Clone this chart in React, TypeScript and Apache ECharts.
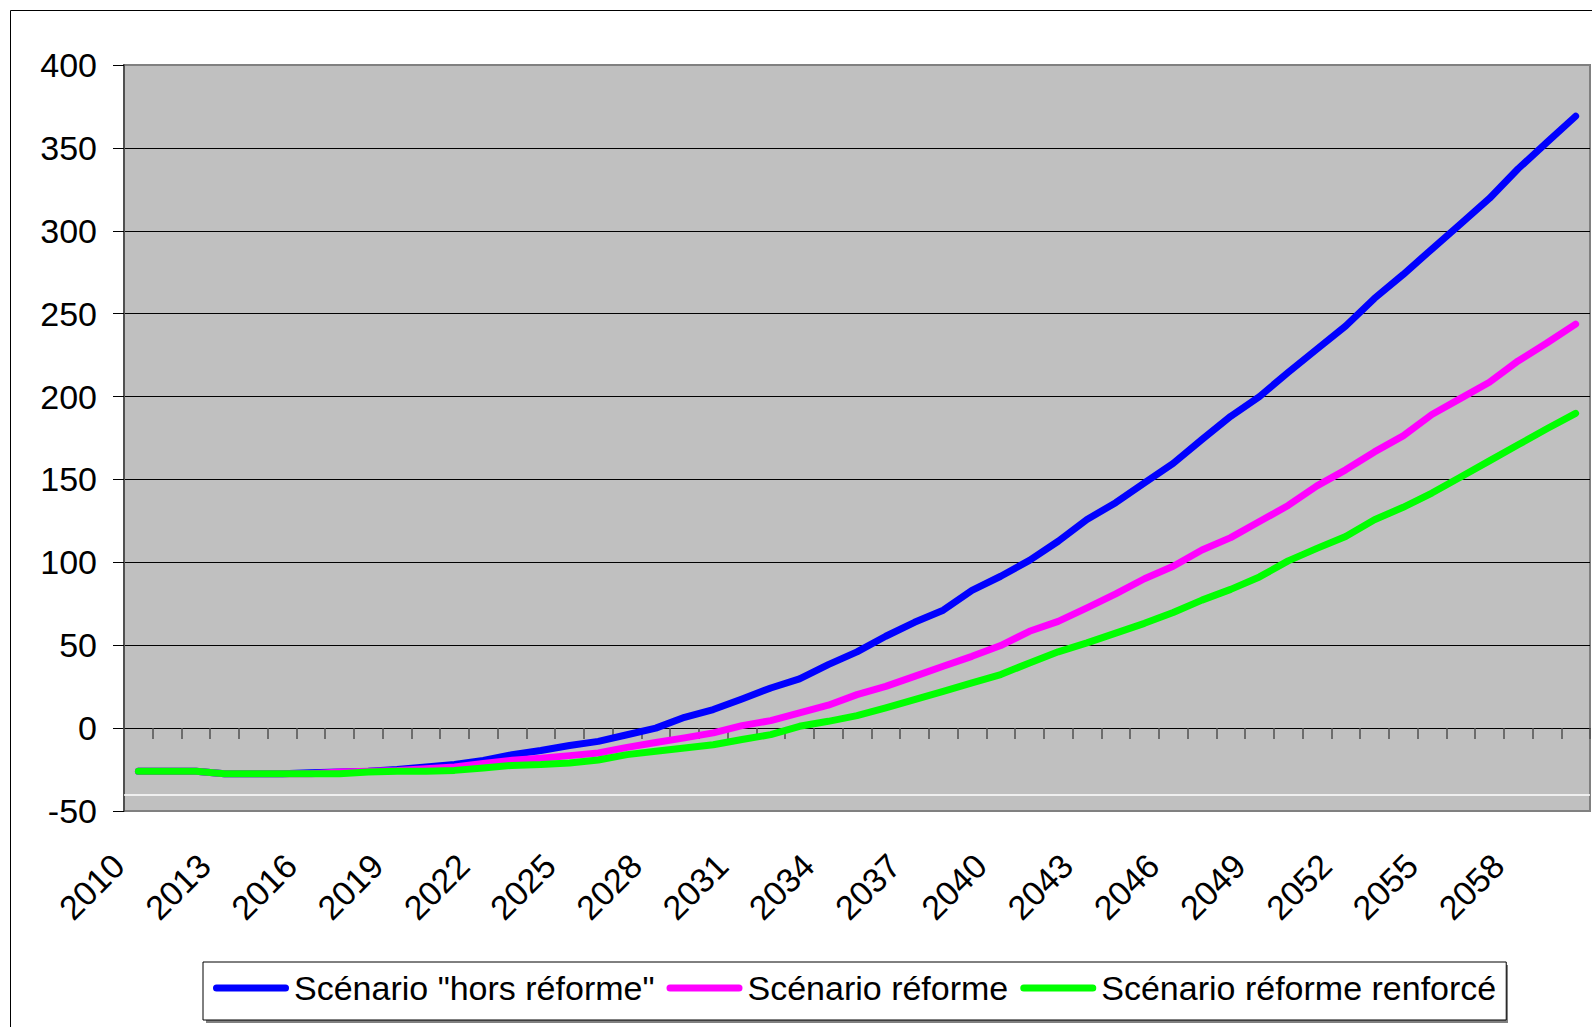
import { useEffect, useRef } from "react";
import * as echarts from "echarts";

// Years on the horizontal axis
const years = [
  "2010", "2011", "2012", "2013", "2014", "2015", "2016", "2017", "2018", "2019",
  "2020", "2021", "2022", "2023", "2024", "2025", "2026", "2027", "2028", "2029",
  "2030", "2031", "2032", "2033", "2034", "2035", "2036", "2037", "2038", "2039",
  "2040", "2041", "2042", "2043", "2044", "2045", "2046", "2047", "2048", "2049",
  "2050", "2051", "2052", "2053", "2054", "2055", "2056", "2057", "2058", "2059",
  "2060",
];

const seriesNames = ['Scénario "hors réforme"', "Scénario réforme", "Scénario réforme renforcé"];

const horsReforme = [
  -26, -26, -26, -27.5, -27.5, -27.5, -27, -26.5, -26, -25,
  -23.5, -22, -19.5, -16, -13.5, -10.5, -8, -4, 0, 6.5,
  11.2, 17.6, 24.2, 29.7, 38.3, 46, 55.4, 63.8, 71.1, 83.1,
  91.6, 101.2, 112.7, 125.8, 136, 148, 159.7, 174.1, 188.1, 200,
  214.6, 228.6, 242.6, 259.2, 273.6, 289, 304.2, 319.5, 337.4, 353.3,
  369.1,
];

const reforme = [
  -26, -26, -26, -27.5, -27.5, -27.5, -27.5, -26.5, -26, -25.5,
  -24.5, -23.5, -21.4, -19.4, -18.2, -16.6, -15, -11.6, -8.7, -5.9,
  -2.9, 1.5, 4.5, 9.2, 13.8, 20.2, 25.2, 31.2, 37.3, 43.3,
  49.8, 58.4, 64.4, 72.5, 81, 90.1, 97.6, 107.4, 114.9, 124.6,
  134.3, 146.1, 155.8, 166.6, 176.3, 189.2, 198.9, 208.6, 221.5, 232.3,
  243.7,
];

const reformeRenforce = [
  -26, -26, -26, -27.5, -27.5, -27.5, -27.5, -27.5, -26.5, -26,
  -26, -25.5, -24, -22.5, -22, -21, -19.2, -16, -14, -12,
  -10, -6.9, -3.9, 1.1, 4.1, 7.5, 12.2, 17.2, 22.2, 27.3,
  32.3, 39.3, 46, 51.4, 57.3, 63.2, 69.7, 77.2, 83.7, 91.2,
  100.9, 108.4, 115.6, 125.7, 133.2, 141.8, 151.5, 161.2, 170.9, 180.6,
  189.9,
];

const seriesColors = ["#0000FF", "#FF00FF", "#00FF00"];

const FONT = "'Liberation Sans', Arial, Helvetica, sans-serif";
const LEGEND_ICON = "path://M3.5,0L72.5,0A3.5,3.5,0,0,1,72.5,7L3.5,7A3.5,3.5,0,0,1,3.5,0Z";

export default function App() {
  const ref = useRef<HTMLDivElement>(null);

  useEffect(() => {
    if (!ref.current) return;
    const chart = echarts.init(ref.current, null, { renderer: "svg" });

    const values = [horsReforme, reforme, reformeRenforce];

    // split lines: plot border colour at the ends, black in between
    const splitColors = ["#808080", "#000", "#000", "#000", "#000", "#000", "#000", "#000", "#000", "#808080"];

    chart.setOption({
      animation: false,
      backgroundColor: "#ffffff",
      grid: [
        {
          left: 124,
          top: 65,
          width: 1466,
          height: 746,
          show: true,
          backgroundColor: "#C0C0C0",
          borderColor: "#808080",
          borderWidth: 2,
        },
        { left: 104, top: 65, width: 1466, height: 746, show: false },
      ],
      xAxis: [
        {
          type: "category",
          gridIndex: 0,
          data: years,
          boundaryGap: true,
          axisLine: { show: true, onZero: true, lineStyle: { color: "#000", width: 1 } },
          axisTick: { show: true, interval: 0, length: 11, lineStyle: { color: "#505050", width: 1.5 } },
          axisLabel: { show: false },
          splitLine: { show: false },
        },
        {
          type: "category",
          gridIndex: 1,
          data: years,
          boundaryGap: true,
          axisLine: { show: false, onZero: false },
          axisTick: { show: false },
          splitLine: { show: false },
          axisLabel: {
            interval: 2,
            rotate: 45,
            margin: 49,
            fontSize: 34,
            fontFamily: FONT,
            color: "#000",
          },
        },
      ],
      yAxis: [
        {
          type: "value",
          gridIndex: 0,
          min: -50,
          max: 400,
          interval: 50,
          axisLine: { show: true, lineStyle: { color: "#505050", width: 2 } },
          axisTick: { show: true, length: 11, lineStyle: { color: "#000", width: 1 } },
          axisLabel: { margin: 27, fontSize: 34, fontFamily: FONT, color: "#000" },
          splitLine: { show: true, lineStyle: { color: splitColors, width: 1 } },
        },
        { type: "value", gridIndex: 1, min: -50, max: 400, interval: 50, show: false },
      ],
      legend: {
        left: 203,
        top: 962,
        orient: "horizontal",
        padding: [9, 10, 15, 10],
        itemWidth: 76,
        itemHeight: 7,
        itemGap: 12,
        backgroundColor: "#ffffff",
        borderColor: "#000000",
        borderWidth: 1,
        itemStyle: { borderWidth: 0 },
        textStyle: { fontFamily: FONT, fontSize: 34, color: "#000" },
        data: seriesNames.map((name) => ({ name, icon: LEGEND_ICON })),
      },
      graphic: [
        {
          type: "rect",
          z: -10,
          silent: true,
          shape: { x: 10.5, y: 10.5, width: 1620, height: 1100 },
          style: { fill: "none", stroke: "#000", lineWidth: 1 },
        },
        {
          type: "rect",
          z: 1,
          silent: true,
          shape: { x: 206, y: 965, width: 1302, height: 58 },
          style: { fill: "#808080" },
        },
      ],
      series: values.map((data, i) => ({
        name: seriesNames[i],
        type: "line",
        xAxisIndex: 0,
        yAxisIndex: 0,
        data,
        showSymbol: false,
        symbol: "none",
        z: 3 + i,
        color: seriesColors[i],
        itemStyle: { color: seriesColors[i] },
        lineStyle: { color: seriesColors[i], width: 7, cap: "round", join: "round" },
        markLine:
          i === 0
            ? {
                silent: true,
                symbol: "none",
                label: { show: false },
                lineStyle: { color: "#ffffff", width: 1.5, type: "solid" },
                data: [{ yAxis: -40 }],
              }
            : undefined,
      })),
    });

    return () => chart.dispose();
  }, []);

  return (
    <div
      ref={ref}
      style={{ position: "fixed", left: 0, top: 0, width: 1592, height: 1027, background: "#fff" }}
    />
  );
}
